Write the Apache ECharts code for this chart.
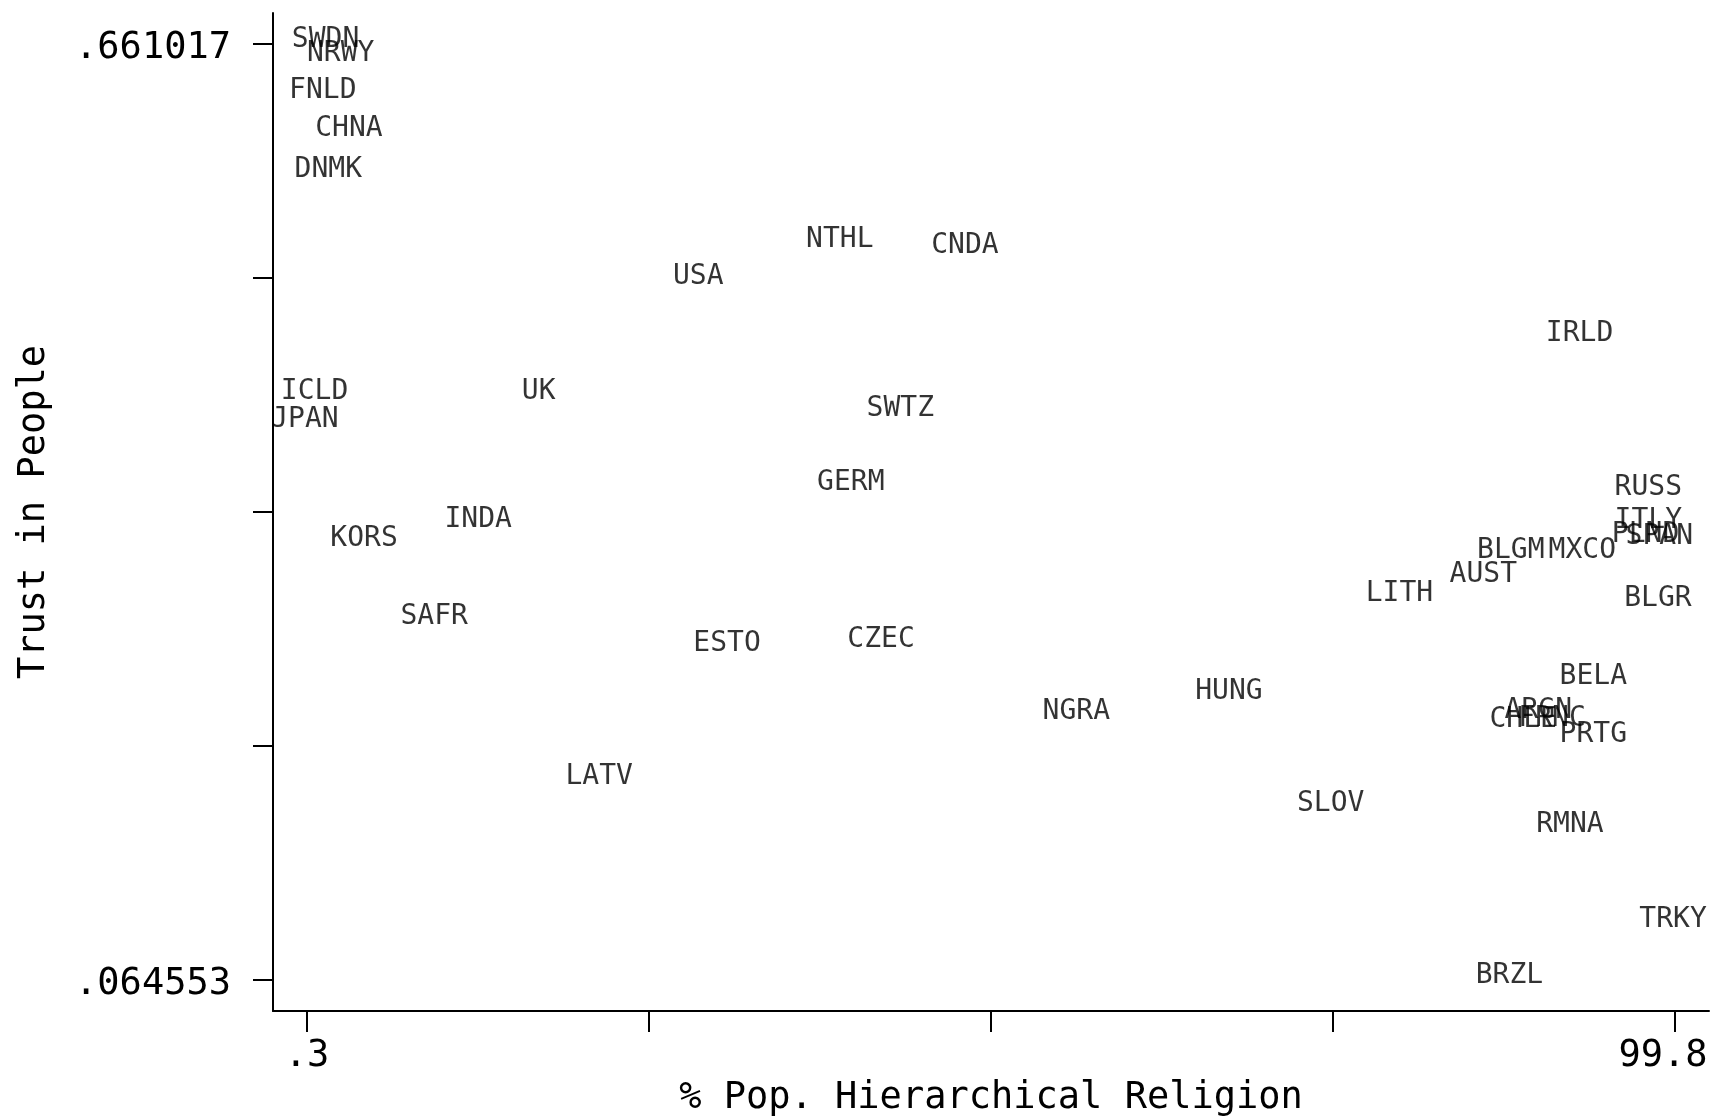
<!DOCTYPE html>
<html>
<head>
<meta charset="utf-8">
<script src="https://cdn.jsdelivr.net/npm/echarts@6/dist/echarts.min.js"></script>
<style>
html,body{margin:0;padding:0;background:#fff;}
#chart{width:1711px;height:1117px;}
</style>
</head>
<body>
<div id="chart"></div>
<script>
const countries = ['SWDN','NRWY','FNLD','CHNA','DNMK','NTHL','CNDA','USA','IRLD','ICLD','UK','JPAN','SWTZ','GERM','RUSS','KORS','INDA','ITLY','PLND','SPAN','BLGM','MXCO','AUST','LITH','BLGR','SAFR','ESTO','CZEC','BELA','ARGN','CHLE','FRNC','PRTG','HUNG','NGRA','LATV','SLOV','RMNA','TRKY','BRZL'];
const hierReligion = [1.8,2.9,1.6,3.5,2.0,39.2,48.3,28.9,93.0,1.0,17.3,0.3,43.6,40.0,98.0,4.6,12.9,98.0,97.8,98.8,88.0,93.2,86.0,79.9,98.7,9.7,31.0,42.2,94.0,90.0,88.9,91.0,94.0,67.5,56.4,21.7,74.9,92.3,99.8,87.9];
const trustPeople = [0.661017,0.6517,0.6281,0.6039,0.5777,0.5331,0.5293,0.5095,0.4732,0.4363,0.4363,0.4184,0.4254,0.3783,0.3751,0.3426,0.3547,0.3541,0.3451,0.3439,0.3349,0.3349,0.3197,0.3075,0.3044,0.2929,0.2757,0.2782,0.2547,0.2330,0.2273,0.2281,0.2177,0.2451,0.2324,0.1909,0.1737,0.1604,0.0998,0.064553];

const xTickValues = [0.3, 25.175, 50.05, 74.925, 99.8];
const xLabelValues = [0.3, 99.8];
const xTickLabels = ['.3', '99.8'];
const yTickValues = [0.064553, 0.213669, 0.362785, 0.511901, 0.661017];
const yLabelValues = [0.064553, 0.661017];
const yTickLabels = ['.064553', '.661017'];

const mono = 'DejaVu Sans Mono';
const chart = echarts.init(document.getElementById('chart'));
const data = countries.map((c, i) => ({ name: c, value: [hierReligion[i], trustPeople[i]] }));

chart.setOption({
  animation: false,
  backgroundColor: '#fff',
  grid: { left: 273, right: 2, top: 13, bottom: 106, containLabel: false, outerBoundsMode: 'none' },
  xAxis: {
    type: 'value',
    min: -2.17, max: 102.27,
    name: '% Pop. Hierarchical Religion',
    nameLocation: 'middle',
    nameGap: 67,
    nameTextStyle: { fontFamily: mono, fontSize: 37, color: '#000', verticalAlign: 'top' },
    axisLine: { show: true, onZero: false, lineStyle: { color: '#000', width: 2 } },
    axisTick: { show: true, customValues: xTickValues, length: 21, lineStyle: { color: '#000', width: 2 } },
    axisLabel: {
      customValues: xLabelValues, margin: 27, fontFamily: mono, fontSize: 37, color: '#000',
      formatter: v => {
        const i = xLabelValues.indexOf(v);
        const t = i >= 0 ? xTickLabels[i] : '';
        return v === 99.8 ? '{r|' + t + '}' : t;
      },
      rich: { r: { fontFamily: mono, fontSize: 37, color: '#000', padding: [0, 24, 0, 0] } }
    },
    splitLine: { show: false }
  },
  yAxis: {
    type: 'value',
    min: 0.0444, max: 0.6803,
    name: 'Trust in People',
    nameLocation: 'middle',
    nameGap: 220,
    nameTextStyle: { fontFamily: mono, fontSize: 37, color: '#000' },
    axisLine: { show: true, onZero: false, lineStyle: { color: '#000', width: 2 } },
    axisTick: { show: true, customValues: yTickValues, length: 20, lineStyle: { color: '#000', width: 2 } },
    axisLabel: {
      customValues: yLabelValues, margin: 42, fontFamily: mono, fontSize: 37, color: '#000',
      formatter: v => { const i = yLabelValues.indexOf(v); return i >= 0 ? '{a|' + yTickLabels[i] + '}' : ''; },
      rich: { a: { fontFamily: mono, fontSize: 37, color: '#000', padding: [10, 0, 0, 0] } }
    },
    splitLine: { show: false }
  },
  series: [{
    type: 'scatter',
    symbolSize: 0,
    data: data,
    label: {
      show: true, position: 'inside', formatter: '{b}',
      fontFamily: mono, fontSize: 28, color: '#000'
    },
    labelLayout: { dx: -2, dy: -4, hideOverlap: false },
    emphasis: { disabled: true }
  }]
});
</script>
</body>
</html>
